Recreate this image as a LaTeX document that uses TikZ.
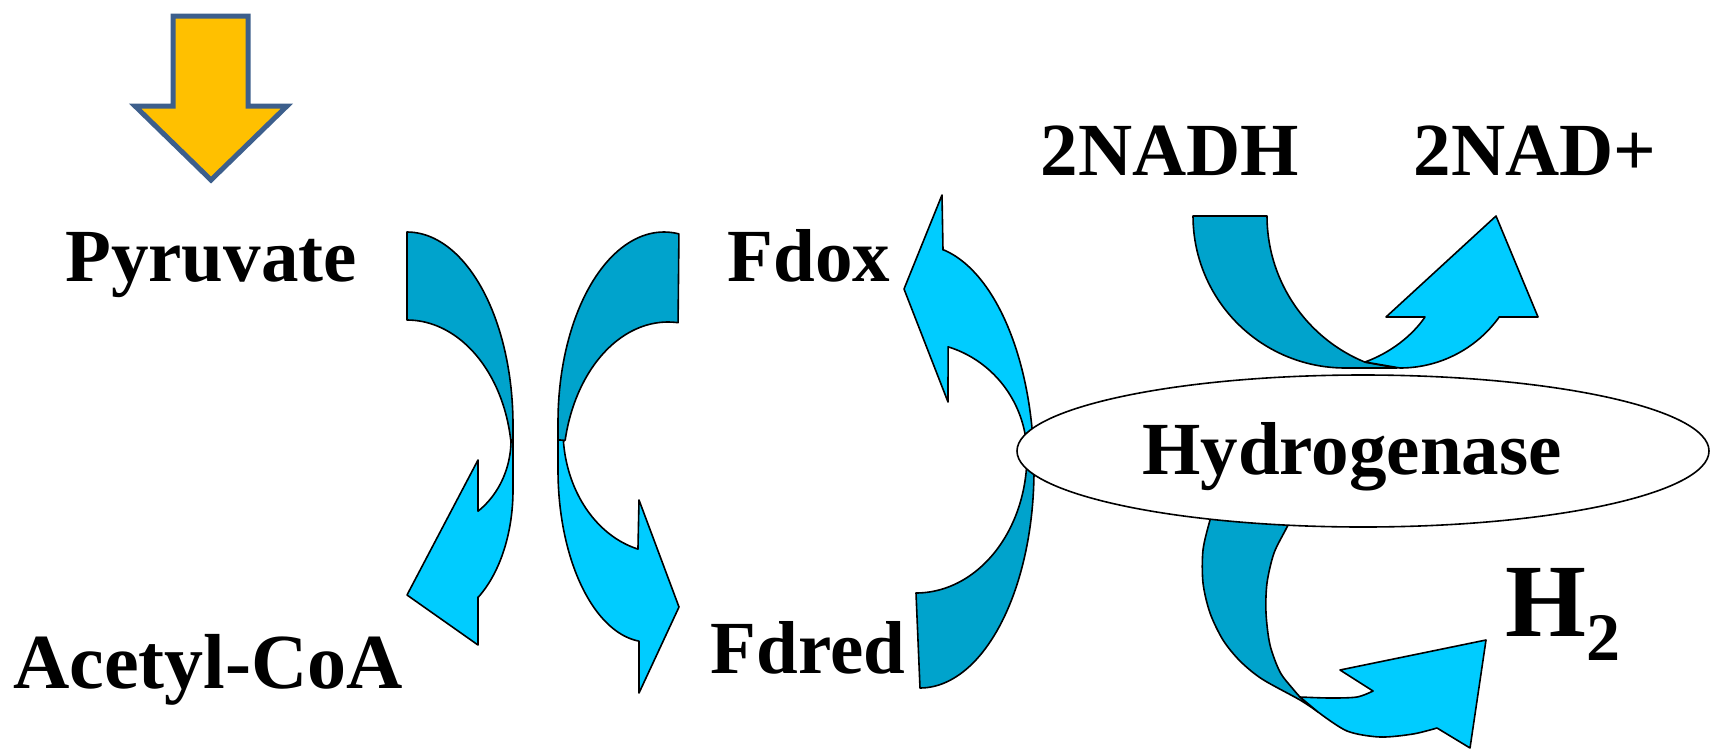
\documentclass[tikz,border=0pt]{standalone}
\usepackage{fontspec}
\setmainfont{Liberation Serif}
\definecolor{darkc}{RGB}{0,163,204}
\definecolor{lightc}{RGB}{0,204,255}
\definecolor{goldc}{RGB}{255,192,0}
\definecolor{slatec}{RGB}{61,95,140}
\begin{document}
\begin{tikzpicture}[x=1pt,y=-1pt,
  band/.style={draw=black, line width=1.6pt, line join=round},
  darkband/.style={band, fill=darkc},
  lightband/.style={band, fill=lightc},
  lbl/.style={font=\bfseries\fontsize{75}{80}\selectfont, anchor=base, inner sep=0pt},
  smp/.style={samples=50, variable=\t}
]
\useasboundingbox (0,0) rectangle (1710,750);

% yellow input arrow
\filldraw[fill=goldc, draw=slatec, line width=5pt, line join=miter]
  (173,16) -- (248,16) -- (248,106) -- (287,106) -- (211,180) -- (135,106) -- (173,106) -- cycle;

% arrow 1: Pyruvate -> Acetyl-CoA
\filldraw[darkband]
  plot[smp, domain=-90:0] ({407+106*cos(\t)},{425+193*sin(\t)})
  -- (513,440)
  -- plot[smp, domain=-8.9:-90] ({407+105*cos(\t)},{462+142*sin(\t)}) -- cycle;
\filldraw[lightband]
  plot[smp, domain=0:54] ({431+80*cos(\t)},{440+88*sin(\t)})
  -- (478,460) -- (407,595) -- (478,645) -- (478,597)
  -- plot[smp, domain=55.8:0] ({433+80*cos(\t)},{490+130*sin(\t)}) -- (513,440) -- cycle;

% arrow 2
\filldraw[darkband]
  plot[smp, domain=-81.9:-180] ({664+106*cos(\t)},{422+190*sin(\t)})
  -- (558,445)
  -- plot[smp, domain=-168.3:-84.5] ({668+105*cos(\t)},{470+148*sin(\t)}) -- cycle;
\filldraw[lightband]
  plot[smp, domain=175.3:104.5] ({663+100*cos(\t)},{430+123*sin(\t)})
  -- (639,500) -- (679,607) -- (639,693) -- (639,643)
  -- plot[smp, domain=95.7:180] ({648+90*cos(\t)},{470+172*sin(\t)}) -- (558,440) -- cycle;

% arrow 3: Fdred -> Fdox
\filldraw[darkband]
  plot[smp, domain=90:0] ({916+111*cos(\t)},{455+138*sin(\t)})
  -- plot[smp, domain=0:90] ({920+114*cos(\t)},{470+218*sin(\t)}) -- cycle;
\filldraw[lightband]
  plot[smp, domain=0:-73.2] ({916+111*cos(\t)},{455+113*sin(\t)})
  -- (948,402) -- (904,289) -- (942,195) -- (943,250)
  -- plot[smp, domain=-78.4:0] ({920+114*cos(\t)},{470+225*sin(\t)}) -- cycle;

% arrow 4: 2NADH -> 2NAD+
\filldraw[darkband] (1193,216) -- (1267,216)
  -- plot[smp, domain=180:112.3] ({1425+158*cos(\t)},{216+158*sin(\t)})
  -- (1397,368) -- (1345,368)
  -- plot[smp, domain=90:180] ({1345+152*cos(\t)},{216+152*sin(\t)}) -- cycle;
\filldraw[lightband] (1365,362) .. controls (1390,353) and (1412,336) .. (1425,317)
  -- (1386,317) -- (1496,216) -- (1538,317) -- (1499,317)
  -- plot[smp, domain=35.8:90] ({1400+122*cos(\t)},{246+122*sin(\t)}) -- cycle;

% arrow 5: -> H2
\filldraw[darkband]
  plot[smooth] coordinates {(1215,505) (1210,520) (1203,550) (1203,583) (1210,613) (1223,640) (1240,661) (1262,679) (1300,700) (1318,712)}
  -- (1300,697)
  -- plot[smooth] coordinates {(1300,697) (1293,689) (1280,672) (1270,645) (1266,613) (1267,583) (1274,553) (1287,527) (1297,505)} -- cycle;
\filldraw[lightband]
  plot[smooth] coordinates {(1300,697) (1330,698) (1357,697) (1373,691)}
  -- (1340,670) -- (1486,640) -- (1470,748) -- (1437,728)
  -- plot[smooth] coordinates {(1437,728) (1413,734) (1380,737) (1347,731) (1318,712)} -- cycle;

% hydrogenase ellipse
\filldraw[fill=white, draw=black, line width=1.6pt] (1363,451) ellipse [x radius=346, y radius=76];

% labels
\node[lbl] (pyr) at (211,281) {Pyruvate};
\node[lbl] (acc) at (208,688) {\fontsize{78}{80}\selectfont Acetyl-CoA};
\node[lbl] (fdox) at (809,281) {Fdox};
\node[lbl] (fdred) at (808,673) {Fdred};
\node[lbl] (nadh) at (1170,175) {2NADH};
\node[lbl] (nad) at (1535,175) {2NAD+};
\node[lbl] (hyd) at (1352,474) {Hydrogenase};
\node[anchor=base west, inner sep=0pt, font=\bfseries\fontsize{104}{110}\selectfont] (h2) at (1505,636)
  {H\raisebox{-24pt}{\fontsize{68}{70}\selectfont 2}};
\end{tikzpicture}
\end{document}
